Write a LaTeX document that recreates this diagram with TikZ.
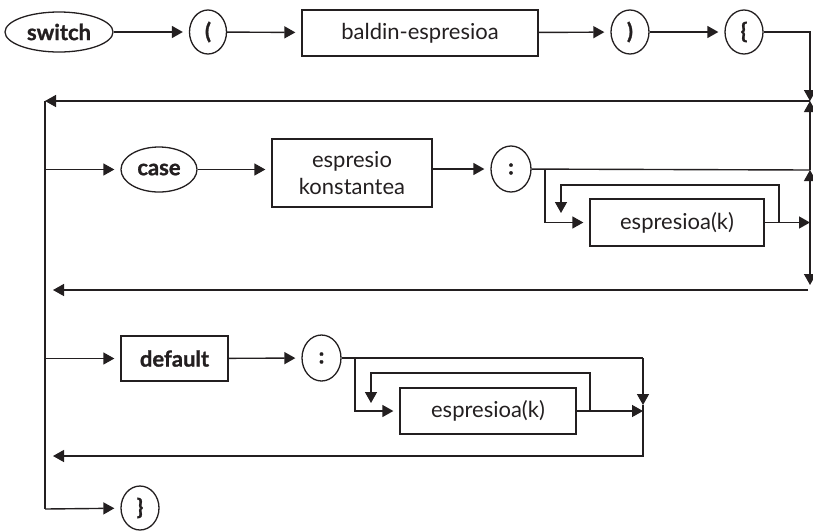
\documentclass[tikz,border=0pt]{standalone}
\usepackage{fontspec}
\setmainfont{Lato}[BoldFeatures={FakeBold=1.2}]
\usetikzlibrary{shapes.geometric,arrows.meta}
\definecolor{ink}{HTML}{231F20}
\tikzset{
  base/.style={draw=ink, line width=1.3pt, text=ink, inner sep=0pt,
    font=\fontsize{22}{27}\selectfont},
  term/.style={base, ellipse},
  nterm/.style={base, rectangle, align=center},
  wire/.style={draw=ink, line width=1.4pt},
  arr/.style={wire, -{Triangle[length=11pt,width=12pt]}},
  arrn/.style={arr, shorten >=6pt},
}
\begin{document}
\begin{tikzpicture}[x=1pt,y=-1pt]
\path[use as bounding box] (0,0) rectangle (813,531);

% first row: switch ( expression ) {
\node[term, minimum width=108pt, minimum height=40pt] (sw) at (59,32) {\bfseries switch};
\node[term, minimum width=37pt, minimum height=44pt] (lp) at (208,32) {\bfseries (};
\node[nterm, minimum width=236pt, minimum height=46pt] (be) at (420,33) {baldin-espresioa};
\node[term, minimum width=38pt, minimum height=44pt] (rp) at (630,32) {\bfseries )};
\node[term, minimum width=38pt, minimum height=44pt] (lb) at (744,32) {\bfseries \{};

% case branch
\node[term, minimum width=76pt, minimum height=45pt] (cs) at (159,169.5) {\bfseries case};
\node[nterm, minimum width=160pt, minimum height=68pt] (ek) at (352,173) {espresio\\konstantea};
\node[term, minimum width=40pt, minimum height=46pt] (c1) at (511,169) {\bfseries :};
\node[nterm, minimum width=174pt, minimum height=47pt] (ea1) at (677,222.5) {espresioa(k)};

% default branch
\node[nterm, minimum width=107pt, minimum height=45pt] (df) at (174.5,358.5) {\bfseries default};
\node[term, minimum width=39pt, minimum height=46pt] (c2) at (321.5,358) {\bfseries :};
\node[nterm, minimum width=176pt, minimum height=46pt] (ea2) at (488,411) {espresioa(k)};

% closing brace
\node[term, minimum width=38pt, minimum height=44pt] (rb) at (140,508) {\bfseries \}};

% junction points
\coordinate (ra) at (810,101);
\coordinate (rc) at (810,170);
\coordinate (rk) at (810,222.5);
\coordinate (rd) at (810,285);
\coordinate (la) at (45,101);
\coordinate (lz) at (45,509);
\coordinate (ka) at (545,169);
\coordinate (kb) at (779,222.5);
\coordinate (kc) at (561,185);
\coordinate (kd) at (561,213);
\coordinate (ce) at (808,290);
\coordinate (cw) at (53,290);
\coordinate (da) at (355,358);
\coordinate (db) at (643,358);
\coordinate (dc) at (643,405);
\coordinate (dd) at (643,456);
\coordinate (dw) at (53,456);
\coordinate (de) at (643,411);
\coordinate (df1) at (590,411);
\coordinate (df2) at (371,373);
\coordinate (df3) at (371,403);

% first row
\draw[arrn] (sw) -- (lp);
\draw[arrn] (lp) -- (be);
\draw[arrn] (be) -- (rp);
\draw[arrn] (rp) -- (lb);
\draw[arr] (lb.east) -| (ra);

% back to the left rail
\draw[arr] (ra) -- (la);
\draw[wire] (la) -- (lz);

% right rail
\draw[arr] (rc) -- (ra);
\draw[arr] (rk) -- (rc);
\draw[arr] (rk) -- (rd);

% case row
\draw[arrn] (45,169.5) -- (cs);
\draw[arrn] (cs) -- (ek.west |- cs);
\draw[arrn] (ek.east |- c1) -- (c1);
\draw[wire] (c1) -- (rc);
\draw[arrn] (ka) |- (ea1.west);
\draw[arr] (ea1) -- (rk);
\draw[arr] (kb) |- (kc) -- (kd);
\draw[arr] (ce) -- (cw);

% default row
\draw[arrn] (45,358.5) -- (df);
\draw[arrn] (df) -- (c2);
\draw[wire] (c2) -- (db);
\draw[arr] (db) -- (dc);
\draw[arr] (dc) -- (dd) -- (dw);
\draw[arrn] (da) |- (ea2.west);
\draw[arr] (ea2) -- (de);
\draw[arr] (df1) |- (df2) -- (df3);

% closing brace
\draw[arrn] (lz) -- (rb);
\end{tikzpicture}
\end{document}
